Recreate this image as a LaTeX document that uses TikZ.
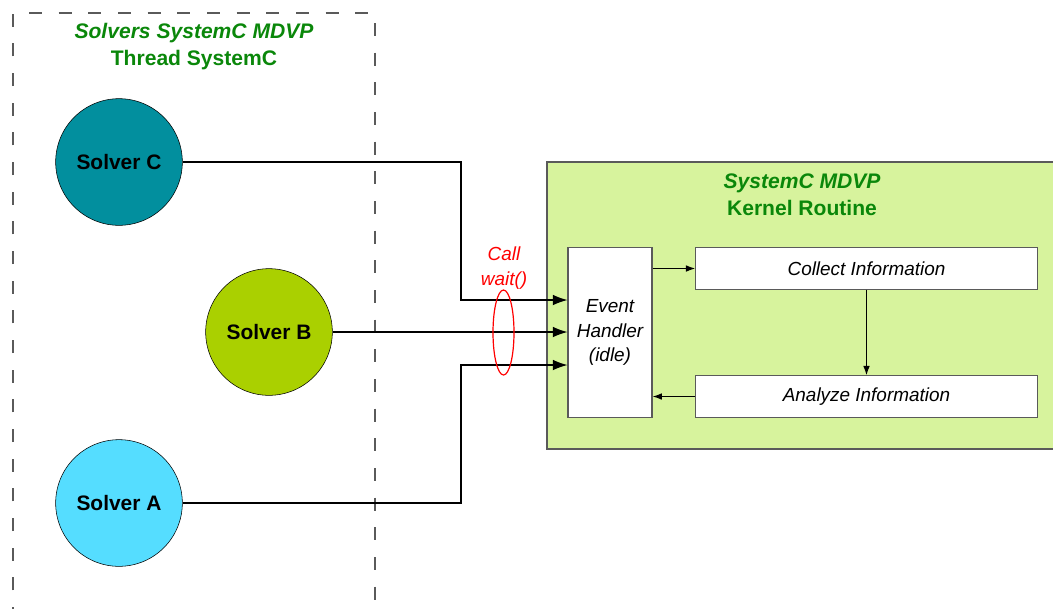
\documentclass[tikz,border=0pt]{standalone}
\usepackage{fontspec}
\setmainfont{Liberation Sans}
\usetikzlibrary{positioning}
\usetikzlibrary{arrows.meta}
\definecolor{solverc}{RGB}{2,143,158}
\definecolor{solverb}{RGB}{170,208,0}
\definecolor{solvera}{RGB}{85,221,255}
\definecolor{kernelbg}{RGB}{215,243,157}
\definecolor{titlegreen}{RGB}{10,135,10}
\definecolor{framegray}{RGB}{90,90,90}
\tikzset{solver/.style = {circle, draw=black, thin, minimum size=95pt,
                          inner sep=0, font=\fontsize{15.7}{18}\selectfont\bfseries}}
\tikzset{taskbox/.style = {draw=framegray, fill=white, line width=0.8pt,
                           font=\fontsize{14.2}{18}\selectfont\itshape}}
\tikzset{title/.style = {text=titlegreen, align=center,
                         font=\fontsize{15.8}{20.5}\selectfont\bfseries}}
\tikzset{call/.style = {-{Latex[length=11pt,width=8pt]}, line width=0.9pt}}
\tikzset{flow/.style = {-{Latex[length=7pt,width=5pt]}, line width=0.9pt}}

\begin{document}
\begin{tikzpicture}[x=0.75pt,y=-0.75pt]
      \clip (0,0) rectangle (1053,608);
      % thread frame
      \draw[framegray, line width=1.1pt, dash pattern=on 9.75pt off 12.5pt]
        (13,620) -- (13,13) -- (375,13) -- (375,620);
      \node[title] (threadtitle) at (194,46.5)
        {\itshape Solvers SystemC MDVP\\Thread SystemC};
      % kernel frame
      \draw[framegray, fill=kernelbg, line width=0.8pt]
        (547,162) rectangle (1070,449);
      \node[title] (kerneltitle) at (802,195)
        {\itshape SystemC MDVP\\Kernel Routine};
      % solvers
      \node[solver, fill=solverc] (solverC) at (119,162) {Solver C};
      \node[solver, fill=solverb] (solverB) at (269,332) {Solver B};
      \node[solver, fill=solvera] (solverA) at (119,503) {Solver A};
      % kernel boxes
      \node[taskbox, minimum width=63pt, minimum height=127pt, align=center,
            font=\fontsize{14.2}{18.7}\selectfont\itshape]
        (handler) at (610,332.5) {Event\\Handler\\(idle)};
      \node[taskbox, minimum width=256pt, minimum height=31pt]
        (collect) at (866.5,268.5) {Collect Information};
      \node[taskbox, minimum width=256pt, minimum height=31pt]
        (analyze) at (866.5,396.5) {Analyze Information};
      % calls
      \coordinate (cbend) at (461,300);
      \coordinate (abend) at (461,365);
      \draw[call] (solverC.east) -| (cbend) -- (cbend -| handler.west);
      \draw[call] (solverB.east) -- (solverB.east -| handler.west);
      \draw[call] (solverA.east) -| (abend) -- (abend -| handler.west);
      \draw[red, line width=0.9pt] (503.5,332.5) ellipse (10.5 and 42.5);
      \node[text=red, align=center, font=\fontsize{14.2}{19}\selectfont\itshape]
        (waitcall) at (504,268) {Call\\wait()};
      % routine
      \draw[flow] (handler.east |- collect.west) -- (collect.west);
      \draw[flow] (collect.south) -- (analyze.north);
      \draw[flow] (analyze.west) -- (analyze.west -| handler.east);
    \end{tikzpicture}
\end{document}
